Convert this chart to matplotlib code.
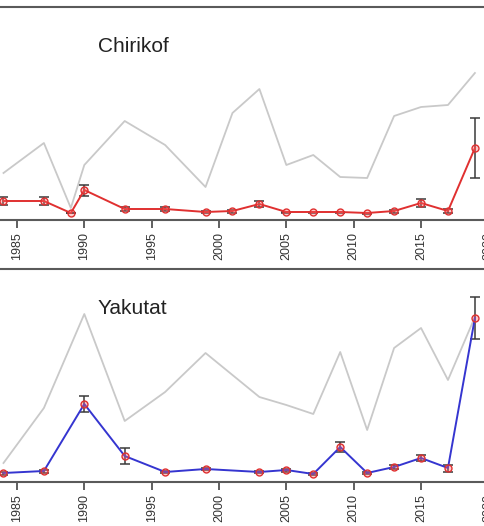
import matplotlib
matplotlib.use("Agg")
import matplotlib.pyplot as plt

plt.rcParams["font.family"] = ["Liberation Sans", "DejaVu Sans"]

# Chirikof (top panel)
chir_years = [1984, 1987, 1989, 1990, 1993, 1996, 1999, 2001, 2003,
              2005, 2007, 2009, 2011, 2013, 2015, 2017, 2019]
chir_index = [1.2, 1.2, 0.0, 2.3, 0.4, 0.4, 0.1, 0.2, 0.9,
              0.1, 0.1, 0.1, 0.0, 0.2, 1.0, 0.2, 6.5]
chir_err = [0.4, 0.4, 0.0, 0.55, 0.2, 0.2, 0.1, 0.15, 0.3,
            0.05, 0.05, 0.05, 0.05, 0.15, 0.4, 0.2, 3.0]
chir_gray = [4.0, 7.0, 0.5, 4.8, 9.2, 6.8, 2.6, 10.0, 12.4,
             4.8, 5.8, 3.6, 3.5, 9.7, 10.6, 10.8, 14.0]

# Yakutat (bottom panel)
yak_years = [1984, 1987, 1990, 1993, 1996, 1999, 2003, 2005,
             2007, 2009, 2011, 2013, 2015, 2017, 2019]
yak_index = [0.1, 0.3, 7.0, 1.8, 0.2, 0.5, 0.2, 0.4,
             0.0, 2.7, 0.1, 0.7, 1.6, 0.6, 15.6]
yak_err = [0.15, 0.15, 0.8, 0.8, 0.1, 0.1, 0.1, 0.15,
           0.1, 0.5, 0.1, 0.2, 0.3, 0.35, 2.1]
yak_gray = [1.1, 6.6, 16.0, 5.3, 8.2, 12.1, 7.7, 6.9,
            6.0, 12.2, 4.4, 12.6, 14.6, 9.4, 15.7]

xticks = [1985, 1990, 1995, 2000, 2005, 2010, 2015, 2020]

W, H = 485, 526
fig = plt.figure(figsize=(W / 100, H / 100), dpi=100)

GRAY = "#c9c9c9"
SPINE = "#5a5a5a"


def panel(top_px, bottom_px, ylim, years, idx, err, gray, title, line_color):
    ax = fig.add_axes([-0.1, 1 - bottom_px / H, 1.2, (bottom_px - top_px) / H])
    ax.plot(years, gray, color=GRAY, lw=1.3, zorder=1)
    ax.errorbar(years, idx, yerr=err, fmt="none", ecolor="#3a3a3a",
                elinewidth=1.1, capsize=3.5, capthick=1.1, zorder=2)
    ax.plot(years, idx, color=line_color, lw=1.4, zorder=3)
    ax.plot(years, idx, ls="none", marker="o", ms=5.0, mfc=(1, 0.4, 0.4, 0.35),
            mec="#e03030", mew=1.0, zorder=4)
    ax.set_xlim(1980.14, 2023.35)
    ax.set_ylim(*ylim)
    ax.set_xticks(xticks)
    ax.set_xticklabels([str(t) for t in xticks], rotation=90, fontsize=9,
                       color="#333333")
    ax.tick_params(axis="x", direction="out", length=6, width=1.2,
                   color="#444444", pad=3)
    ax.tick_params(axis="y", left=False, labelleft=False)
    for s in ax.spines.values():
        s.set_color(SPINE)
        s.set_linewidth(1.5)
    ax.text(0.251, 0.79, title, transform=ax.transAxes, fontsize=15,
            color="#222222", ha="left", va="baseline")
    return ax


panel(7, 220, (-0.7, 20.6), chir_years, chir_index, chir_err, chir_gray,
      "Chirikof", "#e03030")
panel(269, 482, (-0.8, 20.5), yak_years, yak_index, yak_err, yak_gray,
      "Yakutat", "#3535d0")

fig.savefig("out.png", dpi=100)
